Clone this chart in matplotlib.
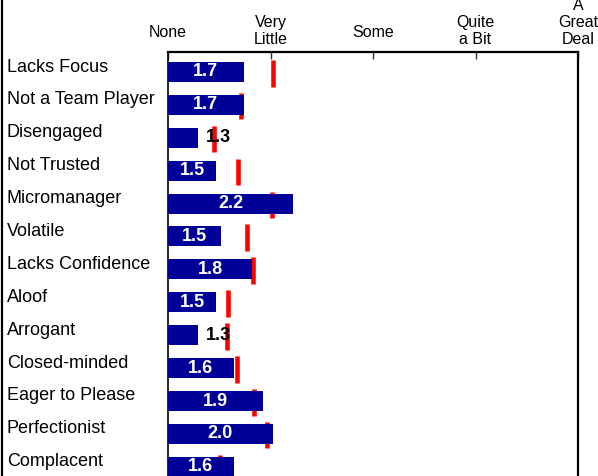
import matplotlib
matplotlib.use("Agg")
import matplotlib.pyplot as plt
from matplotlib.lines import Line2D

plt.rcParams['font.family'] = ['Liberation Sans', 'DejaVu Sans']

categories = ["Lacks Focus", "Not a Team Player", "Disengaged", "Not Trusted",
              "Micromanager", "Volatile", "Lacks Confidence", "Aloof", "Arrogant",
              "Closed-minded", "Eager to Please", "Perfectionist", "Complacent"]
scores = [1.74, 1.74, 1.29, 1.47, 2.22, 1.52, 1.82, 1.47, 1.29, 1.64, 1.93, 2.02, 1.64]
benchmarks = [2.02, 1.71, 1.45, 1.68, 2.01, 1.77, 1.83, 1.59, 1.58, 1.67, 1.84, 1.97, 1.51]
scale_values = [1, 2, 3, 4, 5]
scale_labels = ["None", "Very\nLittle", "Some", "Quite\na Bit", "A\nGreat\nDeal"]

W, H = 598, 476
fig = plt.figure(figsize=(W / 100, H / 100), dpi=100)
left_px, right_px, top_px, bot_px = 168, 578, 52, 500
ax = fig.add_axes([left_px / W, 1 - bot_px / H, (right_px - left_px) / W, (bot_px - top_px) / H])

row_px = 32.9
top_lim = -20 / row_px
ax.set_ylim(top_lim + (bot_px - top_px) / row_px, top_lim)
ax.set_xlim(1, 5)

ys = list(range(len(categories)))
navy = "#000099"
ax.barh(ys, [s - 1 for s in scores], left=1, height=20 / row_px, color=navy, zorder=3)
ax.vlines(benchmarks, [y - 12 / row_px for y in ys], [y + 14.5 / row_px for y in ys],
          colors="#ff0000", linewidth=3.3, zorder=2)

for y, s in zip(ys, scores):
    txt = f"{s:.1f}"
    if s < 1.4:
        ax.annotate(txt, xy=(s, y), xytext=(8, 0), textcoords='offset pixels',
                    ha='left', va='center', fontsize=13, fontweight='bold',
                    color='black', zorder=5)
    else:
        ax.text((1 + s) / 2, y, txt, ha='center', va='center', fontsize=13,
                fontweight='bold', color='white', zorder=5)

for y, c in zip(ys, categories):
    ax.annotate(c, xy=(0, y), xycoords=('axes fraction', 'data'),
                xytext=(-(left_px - 7), 5), textcoords='offset pixels',
                ha='left', va='center', fontsize=13, color='black',
                annotation_clip=False)

ax.set_yticks([])
ax.set_xticks(scale_values)
ax.xaxis.set_ticks_position('top')
ax.tick_params(axis='x', direction='in', length=5, width=1, labeltop=False,
               labelbottom=False, colors='#333333')
for v, lab in zip(scale_values, scale_labels):
    off = 12 if '\n' not in lab else 5
    ax.annotate(lab, xy=(v, 1), xycoords=('data', 'axes fraction'),
                xytext=(0, off), textcoords='offset pixels', ha='center',
                va='bottom', fontsize=11.5, color='black', linespacing=1.15,
                annotation_clip=False)

for side in ['top', 'right', 'left']:
    ax.spines[side].set_linewidth(1.6)
    ax.spines[side].set_color('black')
ax.spines['left'].set_linewidth(1.2)
ax.spines['bottom'].set_visible(False)

fig.add_artist(Line2D([1.5 / W, 1.5 / W], [0, 1], transform=fig.transFigure,
                      color='black', linewidth=1.6))

fig.savefig("out.png", dpi=100)
